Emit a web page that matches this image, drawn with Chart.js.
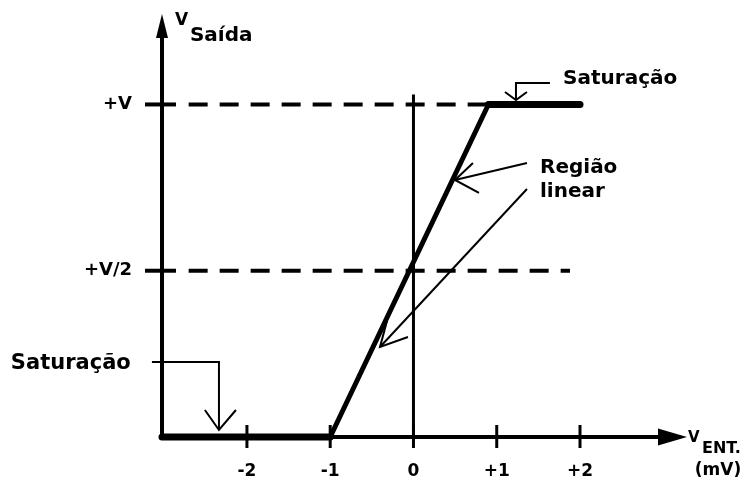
<!DOCTYPE html>
<html>
<head>
<meta charset="utf-8">
<script src="https://cdn.jsdelivr.net/npm/chart.js@4/dist/chart.umd.min.js"></script>
<style>
  html, body { margin: 0; padding: 0; background: #fff; }
  #wrap { width: 751px; height: 481px; }
</style>
</head>
<body>
<div id="wrap"><canvas id="c"></canvas></div>
<script>
// Op-amp transfer curve: input voltage (mV) vs output (fraction of +V)
const vIn  = [-3.02, -1, 0.9, 2];
const vOut = [0, 0, 1, 1];

// Dashed reference levels on the output axis
const refLevels = [1, 0.5];
const refLabels = ['+V', '+V/2'];
const refFrom   = [-2.7, -2.7];
const refTo     = [0.9, 1.88];

// Input axis ticks
const xTicks      = [-2, -1, 0, 1, 2];
const xTickLabels = ['-2', '-1', '0', '+1', '+2'];

// Vertical line through vIn = 0
const zeroLineTop = 1.03;

// Axis ranges (arrow tips sit on the far ends)
const xMin = -3.02, xMax = 3.285;
const yMin = 0,     yMax = 1.272;

// Callout arrows, in axis units: polyline + open arrow head
const callouts = [
  { path: [[1.639, 1.0647], [1.231, 1.0647], [1.231, 1.0135]],
    head: [[1.099, 1.0376], [1.231, 1.0135], [1.363, 1.0376]] },
  { path: [[-3.141, 0.2256], [-2.336, 0.2256], [-2.336, 0.0211]],
    head: [[-2.505, 0.0812], [-2.336, 0.0211], [-2.132, 0.0812]] },
  { path: [[1.363, 0.824], [0.4985, 0.7729]],
    head: [[0.7147, 0.824], [0.4985, 0.7729], [0.7868, 0.7338]] },
  { path: [[1.363, 0.7459], [-0.402, 0.2707]],
    head: [[-0.066, 0.3008], [-0.402, 0.2707], [-0.318, 0.3489]] }
];

// Text labels, anchored in axis units (left / baseline unless noted)
const notes = [
  { t: 'Saturação', x: 1.797,  y: 1.0617, size: 20 },
  { t: 'Saturação', x: -4.835, y: 0.2045, size: 21 },
  { t: 'Região',    x: 1.5195, y: 0.794,  size: 20 },
  { t: 'linear',    x: 1.5195, y: 0.7218, size: 20 },
  { t: 'V',         x: -2.865, y: 1.239,  size: 17 },
  { t: 'Saída',     x: -2.685, y: 1.191,  size: 20 },
  { t: 'V',         x: 3.297,  y: -0.015, size: 15 },
  { t: 'ENT.',      x: 3.465,  y: -0.048, size: 16 },
  { t: '(mV)',      x: 3.658,  y: -0.1143, size: 17, align: 'center' }
];

const FONT = "'DejaVu Sans', 'Liberation Sans', sans-serif";

const pts = (xs, ys) => xs.map((v, i) => ({ x: v, y: ys[i] }));

const datasets = [
  {
    label: 'transfer',
    data: pts(vIn, vOut),
    borderColor: '#000',
    borderWidth: 5,
    borderCapStyle: 'round',
    borderJoinStyle: 'miter',
    pointRadius: 0,
    clip: false,
    segment: {
      borderWidth: c => (c.p0.parsed.y === c.p1.parsed.y ? 7 : 5)
    },
    order: 0
  },
  {
    label: 'zero',
    data: pts([0, 0], [0, zeroLineTop]),
    borderColor: '#000',
    borderWidth: 3,
    pointRadius: 0,
    clip: false,
    order: 1
  }
];
refLevels.forEach((lvl, i) => {
  datasets.push({
    label: refLabels[i],
    data: pts([refFrom[i], refTo[i]], [lvl, lvl]),
    borderColor: '#000',
    borderWidth: 4,
    borderDash: [19, 12],
    pointRadius: 0,
    clip: false,
    order: 2
  });
});

const diagram = {
  id: 'diagram',
  afterDatasetsDraw(chart) {
    const { ctx, chartArea: a, scales: { x, y } } = chart;
    const px = v => x.getPixelForValue(v);
    const py = v => y.getPixelForValue(v);
    ctx.save();
    ctx.strokeStyle = '#000';
    ctx.fillStyle = '#000';
    ctx.lineCap = 'butt';

    const x0 = a.left, y0 = py(0);

    // horizontal axis with arrow
    ctx.lineWidth = 4;
    ctx.beginPath(); ctx.moveTo(x0 - 2, y0); ctx.lineTo(a.right - 26, y0); ctx.stroke();
    ctx.beginPath();
    ctx.moveTo(a.right, y0);
    ctx.lineTo(a.right - 29, y0 - 8.5);
    ctx.lineTo(a.right - 29, y0 + 8.5);
    ctx.closePath(); ctx.fill();

    // vertical axis with arrow
    ctx.beginPath(); ctx.moveTo(x0, y0 + 2); ctx.lineTo(x0, a.top + 20); ctx.stroke();
    ctx.beginPath();
    ctx.moveTo(x0, a.top);
    ctx.lineTo(x0 - 6, a.top + 24);
    ctx.lineTo(x0 + 6, a.top + 24);
    ctx.closePath(); ctx.fill();

    // tick marks crossing the axes
    ctx.lineWidth = 3;
    xTicks.forEach(v => {
      ctx.beginPath(); ctx.moveTo(px(v), y0 - 12); ctx.lineTo(px(v), y0 + 11); ctx.stroke();
    });
    ctx.lineWidth = 4;
    refLevels.forEach(v => {
      ctx.beginPath(); ctx.moveTo(x0 - 17, py(v)); ctx.lineTo(x0 + 14, py(v)); ctx.stroke();
    });

    // callout arrows
    ctx.lineWidth = 2;
    ctx.lineJoin = 'miter';
    callouts.forEach(c => {
      [c.path, c.head].forEach(line => {
        ctx.beginPath();
        line.forEach(([u, v], i) => (i ? ctx.lineTo(px(u), py(v)) : ctx.moveTo(px(u), py(v))));
        ctx.stroke();
      });
    });

    // labels
    ctx.textBaseline = 'alphabetic';
    notes.forEach(n => {
      ctx.font = `bold ${n.size}px ${FONT}`;
      ctx.textAlign = n.align || 'left';
      ctx.fillText(n.t, px(n.x), py(n.y));
    });
    ctx.restore();
  }
};

// Keep the plot area fixed: no extra room reserved for label overhang
const noOverhang = s => {
  s.paddingTop = 0; s.paddingBottom = 0; s.paddingLeft = 0; s.paddingRight = 0;
};

new Chart(document.getElementById('c'), {
  type: 'line',
  data: { datasets },
  options: {
    responsive: true,
    maintainAspectRatio: false,
    animation: false,
    events: [],
    layout: { padding: { top: 14, right: 64, left: 0, bottom: 0 } },
    plugins: { legend: { display: false }, tooltip: { enabled: false } },
    scales: {
      x: {
        type: 'linear',
        min: xMin, max: xMax,
        grid: { display: false },
        border: { display: false },
        afterBuildTicks: s => { s.ticks = xTicks.map(v => ({ value: v })); },
        afterFit: s => { s.height = 44; noOverhang(s); },
        ticks: {
          autoSkip: false, maxRotation: 0, padding: 16, color: '#000',
          font: { family: FONT, size: 17, weight: 'bold' },
          callback: v => xTickLabels[xTicks.indexOf(v)]
        }
      },
      y: {
        type: 'linear',
        min: yMin, max: yMax,
        grid: { display: false },
        border: { display: false },
        afterBuildTicks: s => { s.ticks = refLevels.map(v => ({ value: v })); },
        afterFit: s => { s.width = 162; noOverhang(s); },
        ticks: {
          padding: 22, color: '#000',
          font: { family: FONT, size: 18, weight: 'bold' },
          callback: v => refLabels[refLevels.indexOf(v)]
        }
      }
    }
  },
  plugins: [diagram]
});
</script>
</body>
</html>
